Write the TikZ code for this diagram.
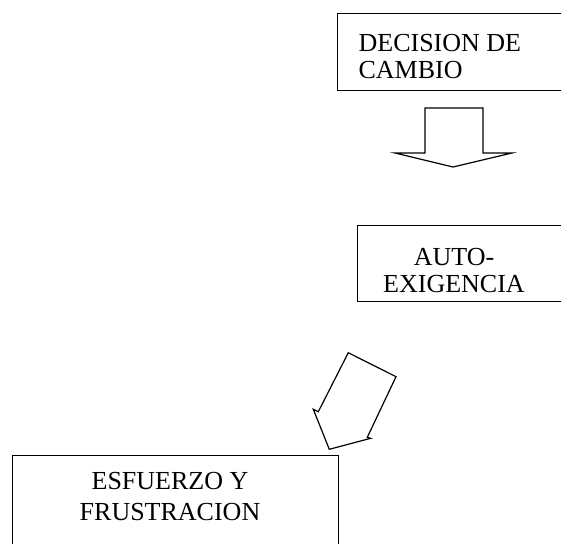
\documentclass[tikz,border=0pt]{standalone}
\usepackage{fontspec}
\setmainfont{Liberation Serif}
\begin{document}
\begin{tikzpicture}[x=1pt, y=-1pt, line width=1.2pt,
		box/.style={draw, rectangle, inner sep=0, anchor=north west},
		lbl/.style={inner sep=0, font=\fontsize{26}{27}\selectfont},
		blockarrow/.style={draw, line join=miter}]
		\clip (0,0) rectangle (561,543);

		% boxes
		\node[box, minimum width=260, minimum height=77] (decision) at (337,13) {};
		\node[box, minimum width=240, minimum height=76] (auto) at (357,225) {};
		\node[box, minimum width=326, minimum height=120] (esfuerzo) at (12,455) {};

		% box texts
		\node[lbl, anchor=north west, align=left] (decisiontxt) at (358,33.5) {DECISION DE\\CAMBIO};
		\node[lbl, anchor=north, align=center] (autotxt) at (454,247.5) {AUTO-\\EXIGENCIA};
		\node[lbl, anchor=north, align=center, font=\fontsize{26}{31}\selectfont] (esfuerzotxt) at (170,471.5) {ESFUERZO Y\\FRUSTRACION};

		% block arrows
		\draw[blockarrow] (425,108) -- (483,108) -- (483,153) -- (512,153) -- (453,167)
			-- (395,153) -- (425,153) -- cycle;
		\draw[blockarrow] (348.3,352.7) -- (396,376.7) -- (367.3,437.3) -- (370.7,438.3)
			-- (329.3,449.3) -- (313.3,409.3) -- (318.3,411.7) -- cycle;
	\end{tikzpicture}
\end{document}
